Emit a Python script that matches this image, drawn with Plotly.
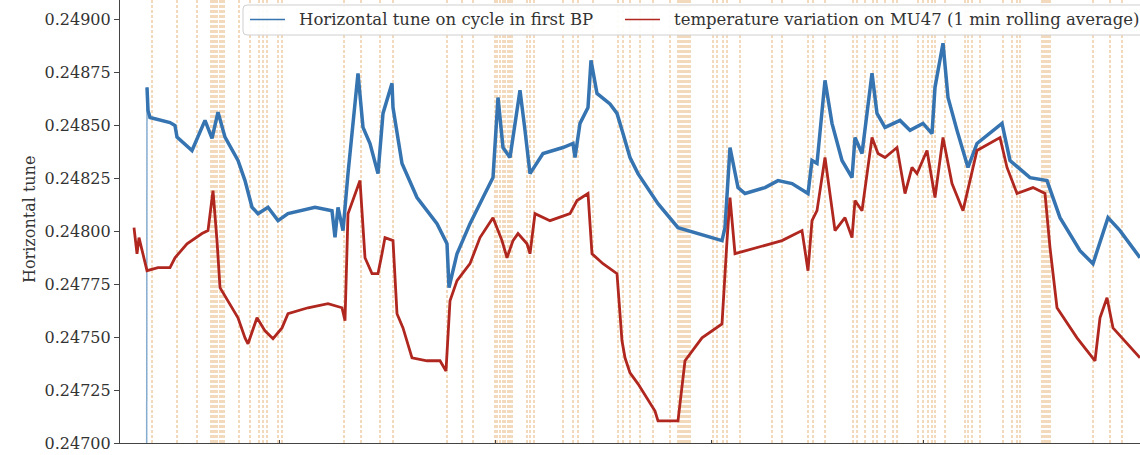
import plotly.graph_objects as go

# ---- data (time index, tune values) ----
tune_t = [26.5, 27, 28, 30, 40, 50, 55, 57, 72, 85, 92, 98, 105, 118, 125, 132, 138, 148, 158, 168,
          195, 212, 215, 218, 223, 228, 238, 243, 250, 258, 263, 272, 273, 282, 297, 317, 327, 329,
          337, 350, 363, 373, 378, 383, 390, 400, 405, 410, 423, 443, 453, 455, 460, 468, 471, 477,
          490, 497, 503, 510, 518, 538, 558, 578, 602, 605, 610, 618, 625, 645, 658, 672, 688, 692,
          697, 705, 712, 722, 732, 735, 742, 752, 757, 765, 780, 790, 803, 812, 815, 823, 828, 837,
          848, 857, 870, 882, 890, 910, 927, 940, 960, 973, 988, 1000, 1020]
tune_v = [0.24600, 0.248678, 0.248569, 0.248536, 0.248522, 0.248512, 0.248498, 0.248443, 0.248380,
          0.248522, 0.248437, 0.248561, 0.248443, 0.248333, 0.248238, 0.248112, 0.248082, 0.248112,
          0.248049, 0.248082, 0.248112, 0.248096, 0.247970, 0.248112, 0.248002, 0.248271, 0.248744,
          0.248489, 0.248413, 0.248271, 0.248555, 0.248697, 0.248583, 0.248319, 0.248158, 0.248035,
          0.247940, 0.247733, 0.247893, 0.248035, 0.248158, 0.248252, 0.248630, 0.248394, 0.248347,
          0.248664, 0.248475, 0.248271, 0.248366, 0.248394, 0.248413, 0.248347, 0.248508, 0.248583,
          0.248805, 0.248649, 0.248600, 0.248555, 0.248460, 0.248347, 0.248271, 0.248129, 0.248016,
          0.247988, 0.247955, 0.248016, 0.248394, 0.248205, 0.248177, 0.248205, 0.248238, 0.248224,
          0.248177, 0.248333, 0.248319, 0.248711, 0.248508, 0.248333, 0.248252, 0.248441, 0.248366,
          0.248744, 0.248555, 0.248489, 0.248522, 0.248475, 0.248508, 0.248460, 0.248678, 0.248886,
          0.248630, 0.248475, 0.248300, 0.248413, 0.248460, 0.248508, 0.248333, 0.248252, 0.248238,
          0.248063, 0.247907, 0.247846, 0.248063, 0.248002, 0.247874]

temp_t = [14, 17, 19, 22, 27, 38, 50, 55, 67, 82, 88, 93, 97, 100, 108, 118, 125, 128, 137, 145,
          153, 162, 168, 188, 208, 222, 225, 228, 240, 245, 252, 258, 262, 265, 273, 277, 283, 292,
          307, 320, 326, 330, 337, 350, 360, 373, 382, 387, 393, 398, 407, 410, 415, 430, 450, 457,
          468, 472, 483, 497, 502, 505, 510, 518, 535, 538, 558, 565, 582, 602, 607, 610, 615, 638,
          662, 682, 688, 692, 697, 705, 715, 725, 732, 735, 742, 752, 758, 765, 777, 785, 792, 797,
          807, 815, 823, 832, 843, 857, 880, 887, 897, 913, 925, 930, 937, 957, 975, 980, 987, 993,
          1020]
temp_v = [0.248016, 0.247893, 0.247969, 0.247907, 0.247813, 0.247827, 0.247827, 0.247874, 0.247940,
          0.247988, 0.248002, 0.248191, 0.247955, 0.247733, 0.247671, 0.247591, 0.247496, 0.247468,
          0.247591, 0.247529, 0.247492, 0.247543, 0.247610, 0.247638, 0.247657, 0.247638, 0.247577,
          0.248082, 0.248238, 0.247874, 0.247799, 0.247799, 0.247893, 0.247969, 0.247955, 0.247610,
          0.247543, 0.247402, 0.247388, 0.247388, 0.247340, 0.247671, 0.247766, 0.247846, 0.247969,
          0.248063, 0.247955, 0.247874, 0.247955, 0.247988, 0.247940, 0.247893, 0.248082, 0.248049,
          0.248082, 0.248144, 0.248177, 0.247893, 0.247846, 0.247799, 0.247482, 0.247402, 0.247331,
          0.247279, 0.247151, 0.247104, 0.247104, 0.247388, 0.247496, 0.247562, 0.247955, 0.248158,
          0.247893, 0.247922, 0.247955, 0.248002, 0.247813, 0.248049, 0.248096, 0.248347, 0.248002,
          0.248063, 0.247969, 0.248144, 0.248096, 0.248441, 0.248366, 0.248347, 0.248394, 0.248177,
          0.248300, 0.248271, 0.248380, 0.248158, 0.248441, 0.248224, 0.248096, 0.248380, 0.248441,
          0.248300, 0.248177, 0.248205, 0.248177, 0.247922, 0.247638, 0.247496, 0.247388, 0.247591,
          0.247685, 0.247543, 0.247402]

event_t = [32, 57, 77, 91, 93, 95, 97, 100, 102, 104, 119, 130, 139, 143, 147, 158, 162, 224, 241,
           260, 273, 327, 342, 353, 375, 377, 380, 383, 385, 388, 390, 392, 407, 410, 414, 443, 453,
           458, 473, 498, 503, 510, 520, 533, 550, 558, 560, 562, 564, 566, 568, 570, 593, 597, 603,
           607, 620, 652, 662, 688, 693, 705, 733, 737, 745, 753, 757, 765, 773, 777, 798, 803, 808,
           812, 815, 825, 845, 848, 852, 860, 883, 892, 897, 900, 922, 924, 926, 928, 930, 973, 990,
           1002]

y_ticks = [0.24700, 0.24725, 0.24750, 0.24775, 0.24800, 0.24825, 0.24850, 0.24875, 0.24900]
x_ticks = [159, 375, 591, 803]

series_names = ["Horizontal tune on cycle in first BP",
                "temperature variation on MU47 (1 min rolling average)"]

BLUE = "#3574b0"
RED = "#b0271f"
FONT = "DejaVu Serif"
W, H = 1140, 455
ML, MB = 120, 12
PW, PH = W - ML, H - MB


def px_x(p):
    return (p - ML) / PW


def px_y(p):
    return 1 - p / PH


fig = go.Figure()

# first (out-of-range) sample drawn as a thin segment
fig.add_trace(go.Scatter(x=tune_t[:2], y=tune_v[:2], mode="lines",
                         line=dict(color=BLUE, width=1.5), opacity=0.6, showlegend=False))
fig.add_trace(go.Scatter(x=tune_t[1:], y=tune_v[1:], mode="lines",
                         line=dict(color=BLUE, width=3.5), showlegend=False))
fig.add_trace(go.Scatter(x=temp_t, y=temp_v, mode="lines",
                         line=dict(color=RED, width=2.8), showlegend=False))

shapes = []
for t in event_t:
    shapes.append(dict(type="line", xref="x", yref="paper", x0=t, x1=t, y0=0, y1=1,
                       line=dict(color="rgba(220,145,60,0.68)", width=1, dash="3px,2px"),
                       layer="below"))

# legend (matplotlib-style rounded box)
bx0, bx1, by0, by1, r = 243, 1160, 5, 35, 4
path = (f"M {px_x(bx0 + r)},{px_y(by0)} L {px_x(bx1)},{px_y(by0)} L {px_x(bx1)},{px_y(by1)} "
        f"L {px_x(bx0 + r)},{px_y(by1)} Q {px_x(bx0)},{px_y(by1)} {px_x(bx0)},{px_y(by1 - r)} "
        f"L {px_x(bx0)},{px_y(by0 + r)} Q {px_x(bx0)},{px_y(by0)} {px_x(bx0 + r)},{px_y(by0)} Z")
shapes.append(dict(type="path", xref="paper", yref="paper", path=path,
                   fillcolor="rgba(255,255,255,0.9)", line=dict(color="#cfcfcf", width=1),
                   layer="above"))
annotations = []
for name, color, lx0, tx in [(series_names[0], BLUE, 250, 297), (series_names[1], RED, 625, 672)]:
    shapes.append(dict(type="line", xref="paper", yref="paper",
                       x0=px_x(lx0), x1=px_x(lx0 + 35), y0=px_y(19.5), y1=px_y(19.5),
                       line=dict(color=color, width=1.6), layer="above"))
    annotations.append(dict(text=name, xref="paper", yref="paper", x=px_x(tx), y=px_y(20),
                            xanchor="left", yanchor="middle", showarrow=False,
                            font=dict(family=FONT, size=16.5, color="#333")))

annotations.append(dict(text="Horizontal tune", xref="paper", yref="paper", x=px_x(30), y=px_y(220),
                        textangle=-90, showarrow=False, xanchor="center", yanchor="middle",
                        font=dict(family=FONT, size=16, color="#333")))

fig.update_layout(
    width=W, height=H,
    margin=dict(l=ML, r=0, t=0, b=MB),
    paper_bgcolor="white", plot_bgcolor="white",
    font=dict(family=FONT, size=16, color="#222"),
    shapes=shapes,
    annotations=annotations,
    showlegend=False,
)
fig.update_xaxes(range=[0, 1020], showgrid=False, zeroline=False, showline=True,
                 linecolor="#444", linewidth=1.2, tickvals=x_ticks, ticks="inside",
                 ticklen=3, tickcolor="#444", showticklabels=False)
fig.update_yaxes(range=[0.24700, 0.24909], showgrid=False, zeroline=False, showline=True,
                 linecolor="#444", linewidth=1.2, tickvals=y_ticks,
                 ticktext=["%.5f" % v for v in y_ticks], ticks="outside", ticklen=5,
                 tickcolor="#444", tickfont=dict(family=FONT, size=16, color="#333"))

fig.write_html("out.html", config={"displayModeBar": False},
               post_script="document.body.style.margin='0px';")
